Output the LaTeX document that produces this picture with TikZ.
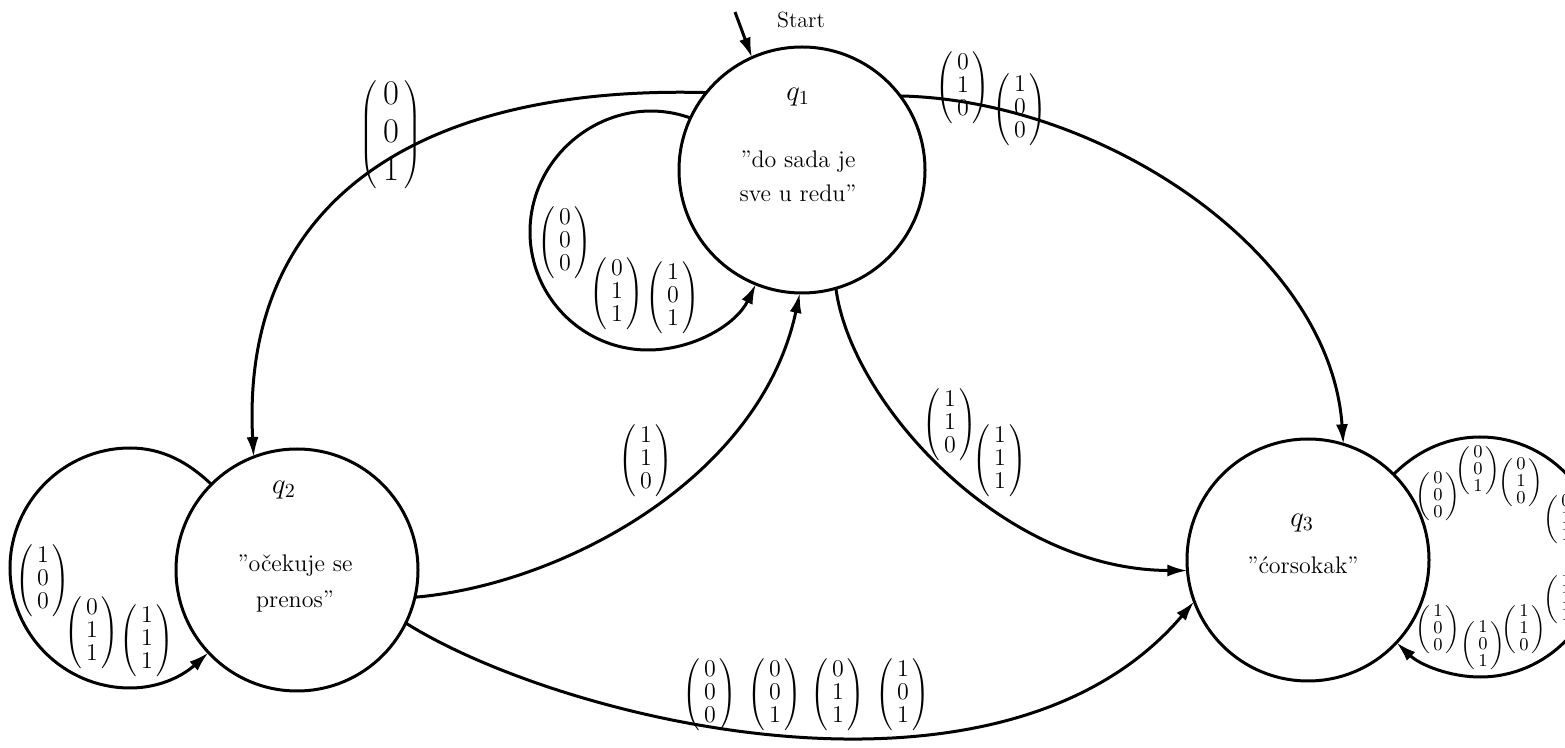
\documentclass[tikz,border=0pt]{standalone}
\usetikzlibrary{arrows.meta}
\newcommand{\vecv}[3]{$\left(\begin{array}{@{\,}c@{\,}}#1\\#2\\#3\end{array}\right)$}
\tikzset{
  x=0.5pt, y=-0.5pt,
  state/.style={circle, draw, line width=1.5pt, inner sep=0pt, outer sep=0pt},
  edge/.style={line width=1.5pt, -{Latex[length=10pt,width=6pt]}},
  vnorm/.style={inner sep=0pt, font=\fontsize{12}{14.4}\selectfont\def\arraystretch{0.8}},
  vbig/.style={inner sep=0pt, font=\fontsize{17}{20.4}\selectfont\def\arraystretch{0.93}},
  vsmall/.style={inner sep=0pt, font=\fontsize{9}{10.8}\selectfont\def\arraystretch{0.8}},
  qlab/.style={inner sep=0pt, font=\fontsize{14}{17}\selectfont},
  stxt/.style={inner sep=0pt, align=center, font=\fontsize{12}{17}\selectfont},
}
\begin{document}
\begin{tikzpicture}
\useasboundingbox (0,0) rectangle (1565,748);
\clip (0,0) rectangle (1565,748);

% states
\node[state, minimum size=123pt] (q1) at (802,170) {};
\node[state, minimum size=121pt] (q2) at (297,570) {};
\node[state, minimum size=121pt] (q3) at (1308,560) {};

\node[qlab] (q1l) at (798,97) {$q_1$};
\node[stxt] (q1t) at (798,176) {''do sada je\\sve u redu''};
\node[qlab] (q2l) at (284,490) {$q_2$};
\node[stxt, font=\fontsize{12}{18}\selectfont] (q2t) at (295,584) {''očekuje se\\prenos''};
\node[qlab] (q3l) at (1302,523) {$q_3$};
\node[stxt] (q3t) at (1303,565) {''ćorsokak''};

% start
\coordinate (st) at (735,12);
\node[inner sep=0pt, font=\fontsize{11}{13}\selectfont] (stl) at (801,20) {Start};
\draw[edge] (st) -- (q1.114);

% q1 self loop
\coordinate (a1) at (530,232);
\coordinate (a2) at (648,350);
\draw[edge] (q1.155) .. controls (613,90) and (530,150) .. (a1)
  .. controls (530,297) and (583,350) .. (a2)
  .. controls (693,350) and (736,325) .. (q1.248);

% q2 self loop
\coordinate (b1) at (130,448);
\coordinate (b2) at (10,568);
\coordinate (b3) at (130,688);
\draw[edge] (q2.135) .. controls (188,462) and (162,448) .. (b1)
  .. controls (64,448) and (10,502) .. (b2)
  .. controls (10,634) and (64,688) .. (b3)
  .. controls (162,688) and (185,674) .. (q2.-137);

% q3 self loop
\coordinate (c1) at (1480,437);
\coordinate (c2) at (1600,557);
\coordinate (c3) at (1480,677);
\draw[edge] (q3.45) .. controls (1418,450) and (1448,437) .. (c1)
  .. controls (1546,437) and (1600,491) .. (c2)
  .. controls (1600,623) and (1546,677) .. (c3)
  .. controls (1450,677) and (1420,665) .. (q3.-43);

% transitions
\draw[edge] (q1.141) .. controls (420,85) and (240,200) .. (q2.111);
\draw[edge] (q2.-13) .. controls (560,585) and (760,480) .. (q1.-91);
\draw[edge] (q1.-74) .. controls (850,400) and (1000,570) .. (q3.185);
\draw[edge] (q1.37) .. controls (1100,100) and (1330,250) .. (q3.73);
\draw[edge] (q2.-26) .. controls (560,720) and (1000,830) .. (q3.200);

% labels
\node[vbig] (l1) at (391,135) {\vecv001};

\node[vnorm] (l2) at (565,243) {\vecv000};
\node[vnorm] (l3) at (617,294) {\vecv011};
\node[vnorm] (l4) at (673,298) {\vecv101};

\node[vnorm] (l5) at (646,461) {\vecv110};

\node[vnorm] (l6) at (950,425) {\vecv110};
\node[vnorm] (l7) at (1000,461) {\vecv111};

\node[vnorm] (l8) at (963,88) {\vecv010};
\node[vnorm] (l9) at (1020,110) {\vecv100};

\node[vnorm] (l10) at (43,581) {\vecv100};
\node[vnorm] (l11) at (92,633) {\vecv011};
\node[vnorm] (l12) at (147,641) {\vecv111};

\node[vnorm] (l13) at (710,695) {\vecv000};
\node[vnorm] (l14) at (775,695) {\vecv001};
\node[vnorm] (l15) at (838,695) {\vecv011};
\node[vnorm] (l16) at (903,695) {\vecv101};

\node[vsmall] (m1) at (1438,497) {\vecv000};
\node[vsmall] (m2) at (1478,471) {\vecv001};
\node[vsmall] (m3) at (1521,483) {\vecv010};
\node[vsmall] (m4) at (1566,520) {\vecv011};
\node[vsmall] (m5) at (1566,600) {\vecv111};
\node[vsmall] (m6) at (1524,630) {\vecv110};
\node[vsmall] (m7) at (1483,646) {\vecv101};
\node[vsmall] (m8) at (1438,630) {\vecv100};
\end{tikzpicture}
\end{document}
